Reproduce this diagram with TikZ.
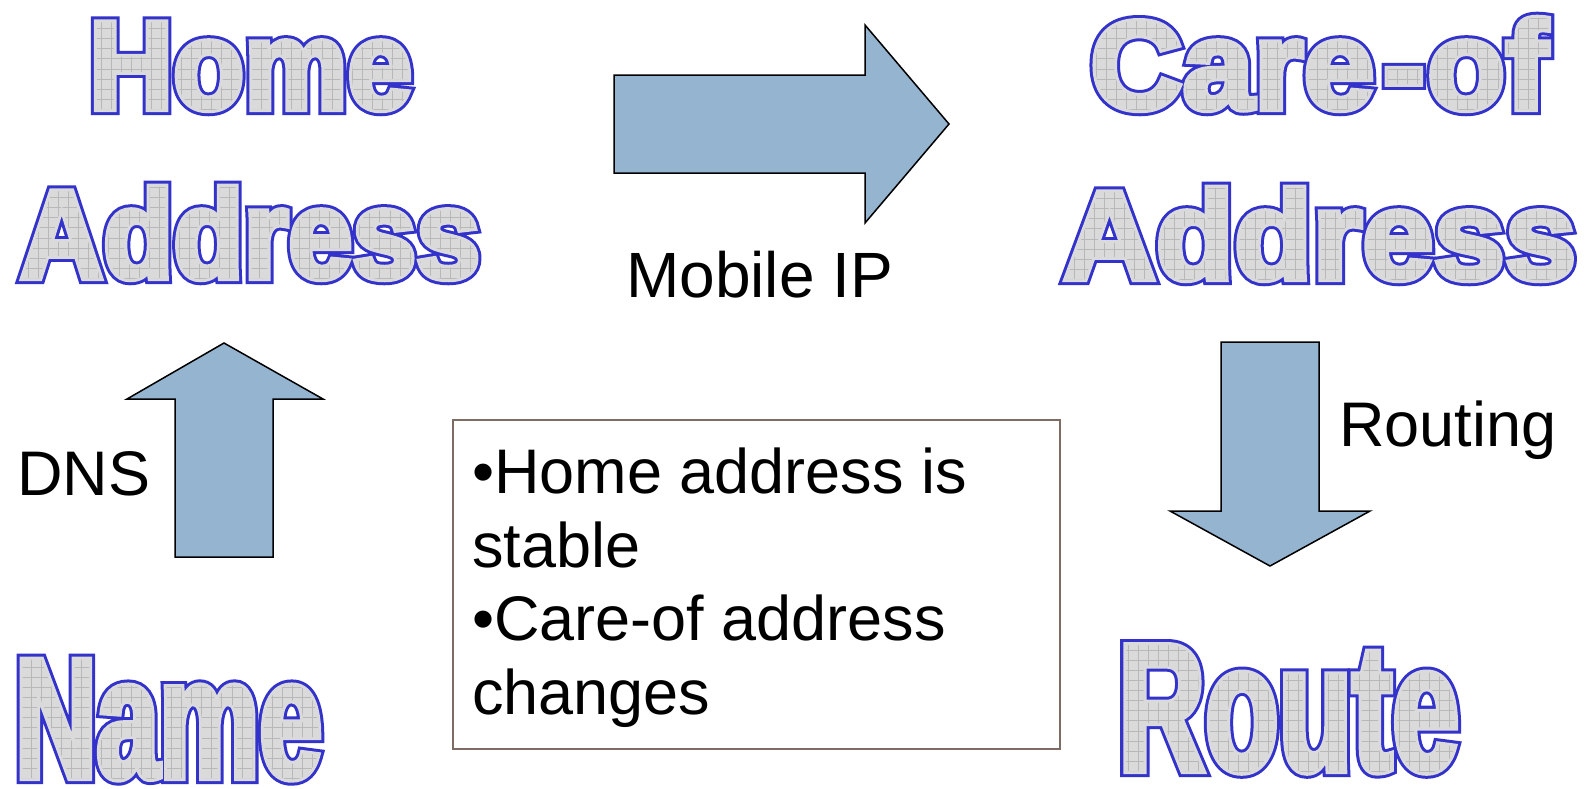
\documentclass[tikz,border=0pt]{standalone}
\usepackage{tikz}
\usepackage{fontspec}
\setmainfont{Liberation Sans}

\definecolor{arrowfill}{RGB}{149,180,208}
\definecolor{boxline}{RGB}{125,108,100}

% grid strokes (PDF units, origin at the end of a word on its baseline)
\def\wagrid{}
\foreach \i in {0,10,...,700}{\xdef\wagrid{\wagrid\space -\i\space -60 m -\i\space 200 l}}
\foreach \j in {-60,-50,...,200}{\xdef\wagrid{\wagrid\space -700 \j\space m 20 \j\space l}}

% outlined, grid-filled display word: #1 box width, #2 font size, #3 word
\newlength\wawd
\newcommand\artword[3]{%
  \settowidth\wawd{\bfseries\fontsize{#2}{#2}\selectfont #3}%
  \pgfmathsetmacro\waratio{#1/\wawd}%
  \fontspec{Liberation Sans}[FakeStretch=\waratio]\bfseries\fontsize{#2}{#2}\selectfont
  \rlap{\special{pdf:literal direct 0 j 2 M 2 Tr 12 w 0.2 0.2 0.8 RG 0.2 0.2 0.8 rg}#3}%
  \rlap{\special{pdf:literal direct 2 Tr 6 w 0.855 0.855 0.855 RG 0.855 0.855 0.855 rg}#3}%
  \special{pdf:literal [] 0 d}\special{pdf:literal direct q 7 Tr}#3%
  \special{pdf:literal 0.72 0.72 0.72 RG 0.7 w \wagrid\space S}%
  \special{pdf:literal direct Q}%
  \special{pdf:literal direct 0 Tr 10 M 0.4 w 0 G 0 g}}

\tikzset{
  blockarrow/.style={fill=arrowfill, draw=black, line width=1.5pt, line join=miter},
  labeltext/.style={font=\fontsize{63}{73.5}\selectfont, inner sep=0pt, anchor=base west},
  wordart/.style={inner sep=0pt, anchor=base west},
}

\begin{document}
\begin{tikzpicture}[x=1pt,y=-1pt]
\useasboundingbox (0,0) rectangle (1589,788);
\fill[white] (0,0) rectangle (1589,788);

% display words
\node[wordart] (home)  at (89,109)   {\artword{323}{126}{Home}};
\node[wordart] (haddr) at (20,278)   {\artword{460}{126}{Address}};
\node[wordart] (care)  at (1090,109) {\artword{458}{126}{Care\kern8pt-\kern2pt of}};
\node[wordart] (caddr) at (1063,279) {\artword{513}{126}{Address}};
\node[wordart] (name)  at (15,778)   {\artword{307}{172}{Name}};
\node[wordart] (route) at (1118,771) {\artword{341}{183}{Route}};

% block arrows
\draw[blockarrow] (614,75) -- (865,75) -- (865,25) -- (949,124) -- (865,223)
  -- (865,173) -- (614,173) -- cycle;
\draw[blockarrow] (175,557) -- (175,399) -- (127,399) -- (224,343) -- (323,399)
  -- (273,399) -- (273,557) -- cycle;
\draw[blockarrow] (1221,342) -- (1319,342) -- (1319,511) -- (1370,511) -- (1270,566)
  -- (1170,511) -- (1221,511) -- cycle;

% arrow labels
\node[labeltext] (mip) at (626,297) {\fontsize{64}{73.5}\selectfont Mobile IP};
\node[labeltext] (dns) at (17,495) {DNS};
\node[labeltext] (routing) at (1339,446) {Routing};

% note box
\node[draw=boxline, line width=1.5pt, minimum width=607pt, minimum height=329pt,
  anchor=north west, inner sep=0pt] (notebox) at (452,419) {};
\node[labeltext, align=left] (notes) at (472,714)
  {•Home address is\\stable\\•Care-of address\\changes};
\end{tikzpicture}
\end{document}
